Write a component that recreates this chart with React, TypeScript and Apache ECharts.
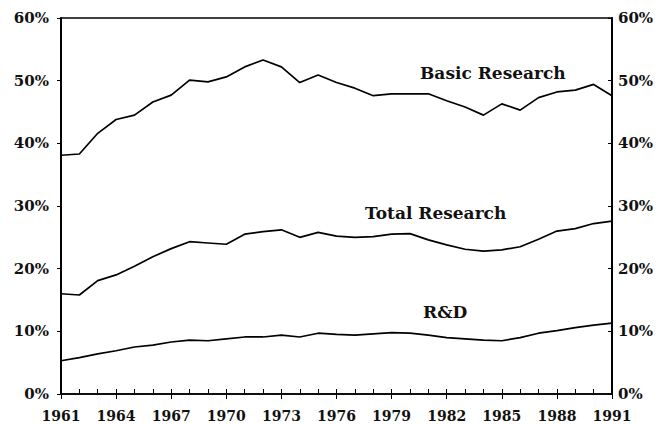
import React, { useEffect, useRef } from "react";
import * as echarts from "echarts";

const years = [1961,1962,1963,1964,1965,1966,1967,1968,1969,1970,1971,1972,1973,1974,1975,1976,1977,1978,1979,1980,1981,1982,1983,1984,1985,1986,1987,1988,1989,1990,1991];
const basicResearch = [38.1,38.3,41.6,43.8,44.5,46.6,47.7,50.1,49.8,50.6,52.2,53.3,52.2,49.7,50.9,49.7,48.8,47.6,47.9,47.9,47.9,46.8,45.8,44.5,46.3,45.3,47.3,48.2,48.5,49.4,47.6];
const totalResearch = [16.0,15.8,18.1,19.0,20.4,21.9,23.2,24.3,24.1,23.9,25.5,25.9,26.2,25.0,25.8,25.2,25.0,25.1,25.5,25.6,24.6,23.8,23.1,22.8,23.0,23.5,24.7,26.0,26.4,27.2,27.6];
const rnd = [5.3,5.8,6.4,6.9,7.5,7.8,8.3,8.6,8.5,8.8,9.1,9.1,9.4,9.1,9.7,9.5,9.4,9.6,9.8,9.7,9.4,9.0,8.8,8.6,8.5,9.0,9.7,10.1,10.6,11.0,11.3];
const yTicks = [0, 10, 20, 30, 40, 50, 60];
const seriesLabels = ["Basic Research", "Total Research", "R&D"];

const FONT = "DejaVu Serif";

export default function App() {
  const ref = useRef<HTMLDivElement>(null);
  useEffect(() => {
    if (!ref.current) return;
    const chart = echarts.init(ref.current, null, { renderer: "svg" });
    const mk = (vals: number[]) => years.map((y, i) => [y, vals[i]]);
    const lineSeries = (name: string, vals: number[]) => ({
      name,
      type: "line",
      data: mk(vals),
      showSymbol: false,
      xAxisIndex: 0,
      yAxisIndex: 0,
      lineStyle: { color: "#000", width: 1.7 },
      label: { show: false },
    });
    const textStyle = { fontFamily: FONT, fontWeight: "bold", fontSize: 17, fill: "#111", verticalAlign: "middle", align: "left" };
    chart.setOption({
      animation: false,
      backgroundColor: "#fff",
      grid: { left: 61, right: 52, top: 18, bottom: 30, show: true, borderColor: "#000", borderWidth: 1.5, backgroundColor: "transparent" },
      xAxis: [
        {
          type: "value", min: 1961, max: 1991, interval: 1,
          axisLine: { show: true, lineStyle: { color: "#000", width: 1.5 } },
          axisTick: { show: true, inside: true, length: 5, lineStyle: { color: "#000" } },
          axisLabel: { show: false },
          splitLine: { show: false },
        },
        {
          type: "value", min: 1961, max: 1991, interval: 3, position: "bottom",
          axisLine: { show: false },
          axisTick: { show: true, inside: false, length: 5, lineStyle: { color: "#000" } },
          axisLabel: { show: true, color: "#111", fontFamily: FONT, fontWeight: "bold", fontSize: 14, margin: 15, formatter: (v: number) => String(v) },
          splitLine: { show: false },
        },
      ],
      yAxis: [
        {
          type: "value", min: yTicks[0], max: yTicks[yTicks.length - 1], interval: 10, position: "left",
          axisLine: { show: true, lineStyle: { color: "#000", width: 2 } },
          axisTick: { show: true, length: 4, lineStyle: { color: "#000" } },
          axisLabel: { color: "#111", fontFamily: FONT, fontWeight: "bold", fontSize: 15, margin: 12, formatter: "{value}%" },
          splitLine: { show: false },
        },
        {
          type: "value", min: yTicks[0], max: yTicks[yTicks.length - 1], interval: 10, position: "right",
          axisLine: { show: true, lineStyle: { color: "#000", width: 2 } },
          axisTick: { show: true, inside: true, length: 4, lineStyle: { color: "#000" } },
          axisLabel: { color: "#111", fontFamily: FONT, fontWeight: "bold", fontSize: 15, margin: 6, formatter: "{value}%" },
          splitLine: { show: false },
        },
      ],
      series: [
        lineSeries(seriesLabels[0], basicResearch),
        lineSeries(seriesLabels[1], totalResearch),
        lineSeries(seriesLabels[2], rnd),
      ],
      graphic: [
        { type: "text", x: 420, y: 73, style: { ...textStyle, text: seriesLabels[0] } },
        { type: "text", x: 365, y: 213, style: { ...textStyle, text: seriesLabels[1] } },
        { type: "text", x: 423, y: 312, style: { ...textStyle, text: seriesLabels[2] } },
      ],
    });
    return () => chart.dispose();
  }, []);
  return <div ref={ref} style={{ width: 664, height: 424, position: "absolute", left: 0, top: 0 }} />;
}
